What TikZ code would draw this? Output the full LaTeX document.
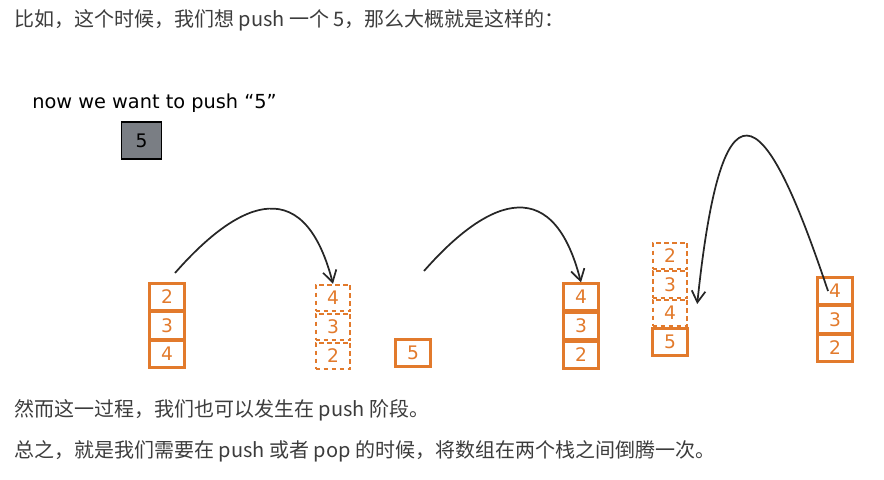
\documentclass[tikz,border=0pt]{standalone}
\usepackage{fontspec}
\usepackage{tikz}
\usetikzlibrary{arrows.meta,calc}
\newfontfamily\cjk{Noto Sans CJK SC}
\newfontfamily\hand{DejaVu Sans}
\definecolor{boxorange}{RGB}{226,122,44}
\definecolor{boxgray}{RGB}{122,126,132}
\definecolor{textgray}{RGB}{60,60,60}

\begin{document}
\begin{tikzpicture}[x=0.75pt, y=-0.75pt, every node/.style={font=\hand\fontsize{14}{16}\selectfont}, >={Straight Barb[length=3mm,width=3.6mm]},
	cell/.style={draw=boxorange, line width=1.8pt, minimum width=26pt, minimum height=20pt, inner sep=0pt, text=boxorange},
	ghost/.style={cell, line width=1.3pt, dash pattern=on 3.5pt off 2.5pt},
	prose/.style={anchor=west, inner sep=0pt, text=textgray, font=\cjk\fontsize{15}{18}\selectfont},
	move/.style={->, line width=1.3pt, black!85}]
	\useasboundingbox (0,0) rectangle (884,479);

	\node[prose] (intro) at (14,20) {比如，这个时候，我们想 push 一个 5，那么大概就是这样的：};
	\node[anchor=west, inner sep=0pt, font=\hand\fontsize{14.5}{17}\selectfont] (want) at (32,103) {now we want to push “5”};
	\node[draw=black, line width=1.2pt, fill=boxgray, minimum width=30pt, minimum height=27.5pt, inner sep=0pt] (new) at (141.5,140.5) {5};

	% stacks
	\foreach \v [count=\i] in {2,3,4} {
		\node[cell] (a\i) at (167,{297+28.5*(\i-1)}) {\v};
		\node[ghost] (d\i) at (670,{256+28.5*(\i-1)}) {\v};
	}
	\foreach \v [count=\i] in {4,3,2} {
		\node[ghost] (b\i) at (333,{298+29*(\i-1)}) {\v};
		\node[cell] (c\i) at (581,{297+29*(\i-1)}) {\v};
		\node[cell] (e\i) at (835,{291+28.5*(\i-1)}) {\v};
	}
	\node[cell] (d4) at (670,342) {5};
	\node[cell] (single) at (413,353) {5};

	% arrows
	\coordinate (from1) at (175,273);
	\coordinate (from2) at (424,271);
	\coordinate (from3) at (828,291);
	\coordinate (to3) at ($(d3.east)+(9,-9)$);
	\draw[move] (from1) .. controls (232,208) and (302,165) .. (b1.north);
	\draw[move] (from2) .. controls (481,206) and (551,165) .. (c1.north);
	\draw[move] (from3) .. controls (770,118) and (724,48) .. (to3);

	\node[prose] (then) at (14,410) {然而这一过程，我们也可以发生在 push 阶段。};
	\node[prose] (sum) at (14,451) {总之，就是我们需要在 push 或者 pop 的时候，将数组在两个栈之间倒腾一次。};
\end{tikzpicture}
\end{document}
